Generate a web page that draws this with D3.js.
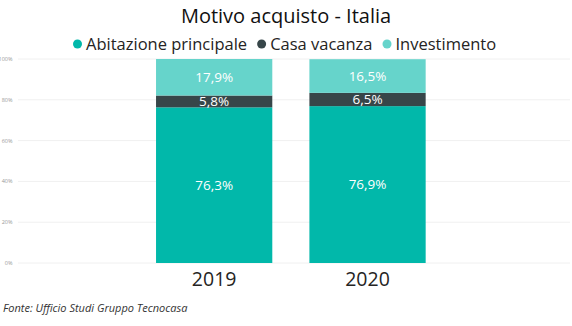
<!DOCTYPE html>
<html>
<head>
<meta charset="utf-8">
<script src="https://cdn.jsdelivr.net/npm/d3@7"></script>
<style>
  html, body { margin: 0; padding: 0; background: #fff; }
  svg { display: block; }
</style>
</head>
<body>
<svg id="chart" width="572" height="326"></svg>
<script>
// Purchase motive shares by year (percent)
const years = ["2019", "2020"];
const seriesNames = ["Abitazione principale", "Casa vacanza", "Investimento"];
const abitazione = [76.3, 76.9];
const casaVacanza = [5.8, 6.5];
const investimento = [17.9, 16.5];
const yTicks = [0, 20, 40, 60, 80, 100];
const colors = ["#01B8AA", "#374649", "#66D4CB"];

const font = "'Open Sans', 'Noto Sans', sans-serif";
const svg = d3.select("#chart");

const rows = years.map((y, i) => ({
  year: y,
  "Abitazione principale": abitazione[i],
  "Casa vacanza": casaVacanza[i],
  "Investimento": investimento[i]
}));

const stack = d3.stack().keys(seriesNames);
const layers = stack(rows);

const x = d3.scaleBand()
  .domain(years)
  .range([140.7, 441])
  .paddingInner(0.242)
  .paddingOuter(0.1);

const y = d3.scaleLinear().domain([0, 100]).range([263, 59]);

// Gridlines
svg.append("g")
  .selectAll("line")
  .data(yTicks)
  .join("line")
  .attr("x1", 18).attr("x2", 570)
  .attr("y1", d => y(d)).attr("y2", d => y(d))
  .attr("stroke", "#f0f0f0")
  .attr("stroke-width", 1);

// Y tick labels
svg.append("g")
  .selectAll("text")
  .data(yTicks)
  .join("text")
  .attr("x", 12.5)
  .attr("y", d => y(d))
  .attr("dy", "0.35em")
  .attr("text-anchor", "end")
  .attr("font-family", font)
  .attr("font-size", 5.5)
  .attr("fill", "#999")
  .text(d => d + "%");

// Stacked bars
const fmt = v => v.toFixed(1).replace(".", ",") + "%";
layers.forEach((layer, li) => {
  const g = svg.append("g");
  g.selectAll("rect")
    .data(layer)
    .join("rect")
    .attr("x", d => x(d.data.year))
    .attr("width", x.bandwidth())
    .attr("y", d => y(d[1]))
    .attr("height", d => y(d[0]) - y(d[1]))
    .attr("fill", colors[li]);
  g.selectAll("text")
    .data(layer)
    .join("text")
    .attr("x", d => x(d.data.year) + x.bandwidth() / 2)
    .attr("y", d => (y(d[0]) + y(d[1])) / 2)
    .attr("dy", "0.36em")
    .attr("text-anchor", "middle")
    .attr("font-family", font)
    .attr("font-size", 13.5)
    .attr("fill", "#fff")
    .text(d => fmt(d[1] - d[0]));
});

// X axis labels
svg.append("g")
  .selectAll("text")
  .data(years)
  .join("text")
  .attr("x", d => x(d) + x.bandwidth() / 2)
  .attr("y", 285.5)
  .attr("text-anchor", "middle")
  .attr("font-family", font)
  .attr("font-size", 19.5)
  .attr("fill", "#252423")
  .text(d => d);

// Title
svg.append("text")
  .attr("x", 286)
  .attr("y", 22.5)
  .attr("text-anchor", "middle")
  .attr("font-family", font)
  .attr("font-size", 20)
  .attr("fill", "#111")
  .text("Motivo acquisto - Italia");

// Legend
const legend = svg.append("g");
let lx = 73;
seriesNames.forEach((name, i) => {
  legend.append("circle")
    .attr("cx", lx + 4.5).attr("cy", 44)
    .attr("r", 4.5)
    .attr("fill", colors[i]);
  const t = legend.append("text")
    .attr("x", lx + 13)
    .attr("y", 49.5)
    .attr("font-family", font)
    .attr("font-size", 16.5)
    .attr("fill", "#252423")
    .text(name);
  lx += 13 + t.node().getComputedTextLength() + 10;
});

// Source note
svg.append("text")
  .attr("x", 3)
  .attr("y", 311.5)
  .attr("font-family", font)
  .attr("font-size", 11)
  .attr("font-style", "italic")
  .attr("fill", "#333")
  .text("Fonte: Ufficio Studi Gruppo Tecnocasa");
</script>
</body>
</html>
